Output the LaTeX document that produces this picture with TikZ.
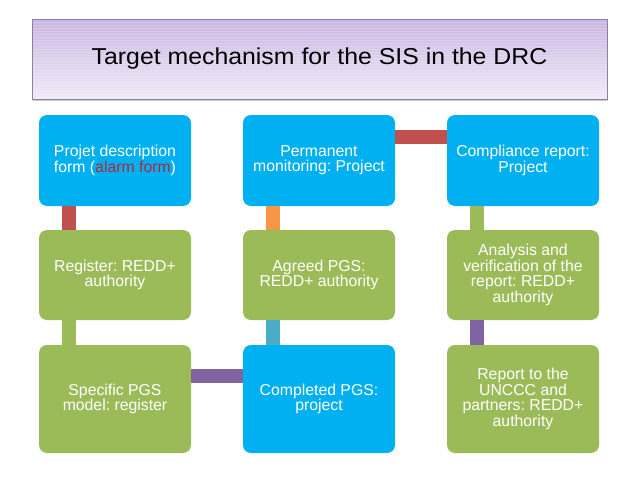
\documentclass[tikz,border=0pt]{standalone}
\usepackage{fontspec}
\setmainfont{Liberation Sans}
\newfontfamily\titrefont[FakeStretch=1.08]{Liberation Sans}
\frenchspacing
\definecolor{bleu}{HTML}{00B0F0}
\definecolor{vert}{HTML}{9BBB59}
\definecolor{rouge}{HTML}{C0504D}
\definecolor{orange2}{HTML}{F79646}
\definecolor{turq}{HTML}{4BACC6}
\definecolor{violet2}{HTML}{8064A2}
\definecolor{lavande}{HTML}{C9B6E2}
\definecolor{lavclair}{HTML}{F1EBF8}
\definecolor{bordtitre}{HTML}{8E7FA3}
\definecolor{alarme}{HTML}{B02A3A}

\begin{document}
\begin{tikzpicture}[x=1pt,y=-1pt]
\tikzstyle{boite} = [rectangle,rounded corners=8pt,minimum width=152pt,inner sep=2pt,outer sep=0pt,text=white,align=center,font=\fontsize{15.8}{15.4}\selectfont] %boîtes
\tikzstyle{lien} = [line width=14pt] %liaisons

\useasboundingbox (0,0) rectangle (638,479);

%titre
\fill[black!20] (33,21) rectangle (608,101); %ombre
\shade[top color=lavande,bottom color=lavclair] (32,19) rectangle (607,99);
\foreach \y in {22,25,...,97} \draw[white,opacity=0.2,line width=0.6pt] (32,\y)--(607,\y);
\draw[bordtitre] (32,19) rectangle (607,99);
\node[font=\titrefont\fontsize{23}{27}\selectfont] (T) at (319.5,59) {Target mechanism for the SIS in the DRC};

%première colonne
\node[boite,fill=bleu,minimum height=91pt] (form) at (115,160.5) {Projet description\\form ({\color{alarme}alarm form})};
\node[boite,fill=vert,minimum height=90pt] (reg) at (115,275) {Register: REDD+\\authority};
\node[boite,fill=vert,minimum height=108pt] (model) at (115,399) {Specific PGS\\model: register};

%deuxième colonne
\node[boite,fill=bleu,minimum height=91pt] (monit) at (319,160.5) {Permanent\\monitoring: Project};
\node[boite,fill=vert,minimum height=90pt] (agreed) at (319,275) {Agreed PGS:\\REDD+ authority};
\node[boite,fill=bleu,minimum height=108pt] (done) at (319,399) {Completed PGS:\\project};

%troisième colonne
\node[boite,fill=bleu,minimum height=91pt] (compl) at (523,160.5) {Compliance report:\\Project};
\node[boite,fill=vert,minimum height=90pt] (analy) at (523,275) {Analysis and\\verification of the\\report: REDD+\\authority};
\node[boite,fill=vert,minimum height=108pt] (unccc) at (523,399) {Report to the\\UNCCC and\\partners: REDD+\\authority};

%liens
\draw[lien,rouge] ([xshift=-46pt]form.south)--([xshift=-46pt]reg.north);
\draw[lien,vert] ([xshift=-46pt]reg.south)--([xshift=-46pt]model.north);
\draw[lien,violet2] ([yshift=-31pt]model.north east)--([yshift=-31pt]done.north west);
\draw[lien,turq] ([xshift=-46pt]done.north)--([xshift=-46pt]agreed.south);
\draw[lien,orange2] ([xshift=-46pt]agreed.north)--([xshift=-46pt]monit.south);
\draw[lien,rouge] ([yshift=-21.5pt]monit.north east)--([yshift=-21.5pt]compl.north west);
\draw[lien,vert] ([xshift=-46pt]compl.south)--([xshift=-46pt]analy.north);
\draw[lien,violet2] ([xshift=-46pt]analy.south)--([xshift=-46pt]unccc.north);
\end{tikzpicture}
\end{document}
